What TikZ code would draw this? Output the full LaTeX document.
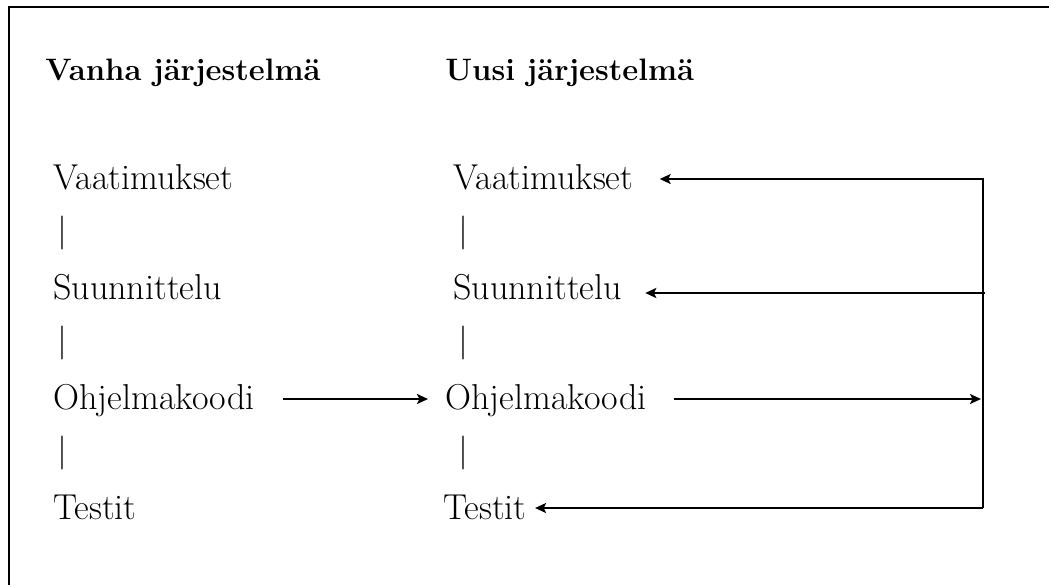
\documentclass[tikz,border=0pt]{standalone}
\usepackage{tikz}
\usetikzlibrary{arrows.meta,calc}

\begin{document}
\begin{tikzpicture}[
    x=0.5pt, y=-0.5pt,
    title/.style={anchor=base west, inner sep=0pt, font=\fontsize{15.5}{18}\selectfont\bfseries},
    phase/.style={anchor=base west, inner sep=0pt, font=\fontsize{18}{21}\selectfont},
    bar/.style={anchor=base, inner sep=0pt, font=\fontsize{17}{20}\selectfont},
    arrow/.style={-{Stealth[length=5.5pt, width=5pt, inset=1.2pt]}, line width=1.15pt}
]

% ================= PAGE & FRAME =================
\fill[white] (0,0) rectangle (1049,585);
\useasboundingbox (0,0) rectangle (1049,585);
% only the top and left edges of the frame are on the page
\draw[line width=1.3pt] (1049,7) -- (9,7) -- (9,585);

% ================= HEADINGS =================
\node[title] (OldHead) at (45,80) {Vanha järjestelmä};
\node[title] (NewHead) at (445,80) {Uusi järjestelmä};

% ================= OLD SYSTEM =================
\node[phase] (OldReq) at (53,189) {Vaatimukset};
\node[bar] (OldBar1) at (62,241) {|};
\node[phase] (OldDes) at (53,299) {Suunnittelu};
\node[bar] (OldBar2) at (62,351) {|};
\node[phase] (OldCode) at (53,409) {Ohjelmakoodi};
\node[bar] (OldBar3) at (62,461) {|};
\node[phase] (OldTest) at (53,519) {Testit};

% ================= NEW SYSTEM =================
\node[phase] (NewReq) at (453,189) {Vaatimukset};
\node[bar] (NewBar1) at (463,241) {|};
\node[phase] (NewDes) at (453,299) {Suunnittelu};
\node[bar] (NewBar2) at (463,351) {|};
\node[phase] (NewCode) at (445,409) {Ohjelmakoodi};
\node[bar] (NewBar3) at (463,461) {|};
\node[phase] (NewTest) at (443,519) {Testit};

% feedback line on the right
\coordinate (BusTop) at (983,179);
\coordinate (BusDes) at (985,293);
\coordinate (BusCode) at (983,399);
\coordinate (BusBot) at (983,508);

% ================= DRAWING ARROWS =================
% code carried over from the old system
\draw[arrow] ([xshift=14pt, yshift=5pt]OldCode.base east) -- ([xshift=-8.5pt, yshift=5pt]NewCode.base west);
\draw[arrow] ([xshift=13.5pt, yshift=5pt]NewCode.base east) -- ([xshift=-1pt]BusCode);

% back to requirements, design and tests
\draw[arrow] (BusBot) -- (BusTop) -- ($(NewReq.base east |- BusTop)+(26,0)$);
\draw[arrow] (BusDes) -- ($(NewDes.base east |- BusDes)+(23,0)$);
\draw[arrow] (BusBot) -- ($(NewTest.base east |- BusBot)+(8,0)$);

\end{tikzpicture}
\end{document}
